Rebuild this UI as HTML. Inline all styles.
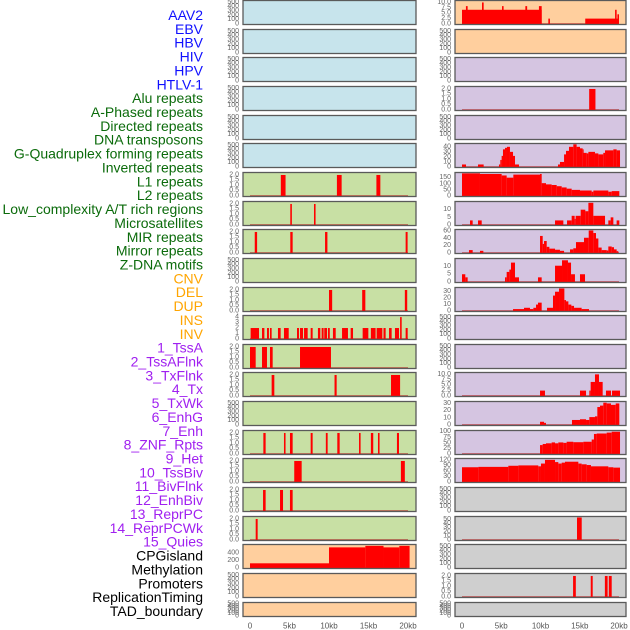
<!DOCTYPE html>
<html><head><meta charset="utf-8"><style>
body{margin:0;background:#fff}
svg{display:block}
</style></head><body>
<svg id="chart" width="630" height="630" viewBox="0 0 630 630" xmlns="http://www.w3.org/2000/svg" font-family="Liberation Sans, sans-serif"></svg>
<script>
// ---- track labels ----
const trackNames = ["AAV2","EBV","HBV","HIV","HPV","HTLV-1","Alu repeats","A-Phased repeats","Directed repeats","DNA transposons","G-Quadruplex forming repeats","Inverted repeats","L1 repeats","L2 repeats","Low_complexity A/T rich regions","Microsatellites","MIR repeats","Mirror repeats","Z-DNA motifs","CNV","DEL","DUP","INS","INV","1_TssA","2_TssAFlnk","3_TxFlnk","4_Tx","5_TxWk","6_EnhG","7_Enh","8_ZNF_Rpts","9_Het","10_TssBiv","11_BivFlnk","12_EnhBiv","13_ReprPC","14_ReprPCWk","15_Quies","CPGisland","Methylation","Promoters","ReplicationTiming","TAD_boundary"];
const groupSizes = [6,13,5,15,5];
const groupColors = ["#1010ff","#0b6b0b","#ffa500","#a020f0","#000000"];
const panelFills = {virus:"#c7e4ec",rep:"#c8e0a4",sv:"#ffcf9e",chrom:"#d5c5e1",other:"#cfcfcf"};

// ---- tick sets ----
const ticksEmpty = [0,100,200,300,400,500];
const ticks2 = [0,0.5,1,1.5,2];
const ticks4 = [0,1,2,3,4];
const ticksCNV = [0,200,400];
const ticks10 = [0,2.5,5,7.5,10];
const ticks40 = [0,10,20,30,40];
const ticks150 = [0,50,100,150];
const ticks10b = [0,5,10];
const ticks60 = [0,20,40,60];
const ticks30 = [0,10,20,30];
const ticks100 = [0,25,50,75,100];
const ticks120 = [0,30,60,90,120];
const ticks50 = [0,10,20,30,40,50];
const xTickKb = [0,5,10,15,20];
const xTickLabels = ["0","5kb","10kb","15kb","20kb"];

// ---- segments [startKb, endKb, value] ----
const L6 = [[3.9,4.5,2],[11.0,11.6,2],[16.0,16.5,2]];
const L7 = [[5.1,5.3,2],[8.1,8.3,2]];
const L8 = [[0.6,0.9,2],[5.1,5.4,2],[9.5,9.8,2],[19.7,19.95,2]];
const L10 = [[10.0,10.4,2],[14.2,14.6,2],[19.6,19.9,2]];
const L11 = [[0.08,1.14,2],[1.52,1.82,2],[2.15,2.4,2],[2.53,2.74,2],[3.54,3.88,2],[4.3,4.9,2],[5.95,6.2,2],[6.33,6.71,2],[6.84,7.3,2],[7.68,7.93,2],[8.6,8.9,2],[9.07,9.32,2],[9.4,9.75,2],[9.87,10.1,2],[10.5,10.85,2],[11.65,12.4,2],[12.74,13.04,2],[14.26,14.98,2],[15.3,15.9,2],[16.03,16.75,2],[16.9,17.17,2],[17.6,17.93,2],[18.35,18.86,2],[19.0,19.2,4],[19.7,19.96,2]];
const L12 = [[0,0.72,2],[1.52,2.15,2],[2.53,2.87,2],[6.33,10.25,2]];
const L13 = [[2.74,3.08,2],[10.7,10.97,2],[17.85,19.0,2]];
const L15 = [[1.69,1.98,2],[4.3,4.5,2],[5.06,5.4,2],[7.68,7.93,2],[9.6,9.83,2],[11.05,11.35,2],[13.8,14.0,2],[15.3,15.6,2],[16.2,16.4,2],[18.6,18.86,2]];
const L16 = [[5.6,6.54,2],[19.1,19.6,2]];
const L17 = [[1.65,1.98,2],[3.8,4.18,2],[5.06,5.4,2]];
const L18 = [[0.72,0.97,2]];
const L19 = [[0,10,125],[10,14.6,550],[14.6,16.9,590],[16.9,18.9,550],[18.9,20.2,590]];

const R0 = [[0,10.15,6.6],[0.5,0.72,8.3],[2.55,2.76,10],[5.1,5.3,8.3],[8.07,8.3,8.3],[9.8,10.15,8.3],[11.0,11.2,2.5],[15.7,20.0,2.5],[19.5,19.7,6.6],[19.8,20.0,4.5]];
const R3 = [[16.2,17.0,2]];
const R5 = [[0,0.51,5],[2.04,2.76,5],[4.71,4.88,5],[4.88,5.05,14],[5.05,5.22,22],[5.22,5.48,35],[5.48,5.73,38],[5.73,6.11,40],[6.11,6.5,30],[6.5,6.75,22],[6.75,7.26,5],[12.23,12.48,5],[12.48,13.0,10],[13.0,13.25,25],[13.25,13.63,32],[13.63,14.18,40],[14.18,14.6,45],[14.6,15.03,40],[15.03,15.37,37],[15.37,15.46,35],[15.46,15.88,28],[15.88,16.1,27],[16.1,16.94,30],[16.94,17.37,27],[17.37,18.0,25],[18.0,18.22,28],[18.22,19.28,33],[19.28,19.7,35],[19.7,20.13,33]];
const R6 = [[0,2.29,185],[2.29,5.05,180],[5.05,5.69,168],[5.69,6.54,150],[6.54,9.94,175],[9.94,10.15,180],[10.15,10.7,105],[10.7,11.42,95],[11.42,12.06,90],[12.06,12.7,80],[12.7,13.33,70],[13.33,13.97,60],[13.97,15.03,50],[15.03,16.52,45],[16.52,16.73,35],[16.73,18.64,45],[18.64,19.07,35],[19.07,20.04,40]];
const R7 = [[1.02,1.36,3],[2.04,2.51,3],[11.85,12.91,3],[13.38,13.97,3],[13.97,14.35,6],[14.35,14.48,4],[14.48,15.12,6],[15.12,15.71,10],[15.71,16.1,9],[16.1,16.73,14.5],[16.73,18.22,6],[18.64,18.94,3],[18.94,19.28,5],[19.7,20.04,3]];
const R8 = [[0.89,1.36,8],[2.29,2.72,6],[9.94,10.28,47],[10.28,10.45,25],[10.45,10.79,33],[10.79,11.13,17],[11.13,11.85,12],[11.85,12.48,9],[12.48,13.0,6],[13.76,14.18,10],[14.18,14.52,13],[14.52,15.54,30],[15.54,16.14,42],[16.14,16.73,62],[16.73,17.07,55],[17.07,17.37,40],[17.37,17.79,15],[17.79,18.43,8],[18.43,18.64,7],[18.64,19.07,18],[19.07,19.36,16],[19.36,19.7,10],[19.7,19.91,5]];
const R9 = [[0,0.42,5],[0.42,0.72,3],[5.48,5.69,3],[5.69,6.03,6.5],[6.03,6.24,8],[6.24,6.75,12.5],[6.75,7.26,3],[9.68,10.15,3],[11.85,12.74,10.5],[12.74,13.5,14],[13.5,13.89,12.5],[13.89,14.39,5],[15.03,15.67,5]];
const R10 = [[6.5,7.9,3],[7.9,8.66,5],[8.66,9.09,3],[9.09,9.43,5],[9.43,9.68,10],[9.68,10.15,13],[10.83,11.59,5],[11.59,11.85,24],[11.85,12.36,30],[12.36,13.04,35],[13.04,13.25,17],[13.25,13.55,15],[13.55,13.93,10],[13.93,14.27,8],[14.27,15.24,5],[15.24,16.18,3]];
const R13 = [[9.94,10.57,2.5],[15.03,15.8,2.5],[16.22,16.39,2.5],[16.39,16.94,6.5],[16.94,17.45,10],[17.45,17.92,6.5],[18.34,18.98,2.5],[19.11,20.13,2.5]];
const R14 = [[9.94,10.45,4.5],[10.45,10.7,3],[14.01,15.03,7],[15.03,15.8,8],[15.8,16.22,7],[16.22,16.94,11],[16.94,17.24,12],[17.24,17.58,25],[17.58,18.0,27],[18.0,18.43,31],[18.43,18.98,30],[18.98,19.58,28],[19.58,20.04,30]];
const R15 = [[9.94,10.28,40],[10.28,10.7,45],[10.7,11.42,48],[11.42,11.85,52],[11.85,12.27,48],[12.27,12.91,52],[12.91,13.33,50],[13.33,14.18,55],[14.18,15.46,53],[15.46,16.52,55],[16.52,16.81,65],[16.81,17.16,90],[17.16,18.43,92],[18.43,19.07,96],[19.07,20.13,100]];
const R16 = [[0,2.08,80],[2.08,5.9,82],[5.9,7.18,88],[7.18,9.72,90],[9.72,10.06,85],[10.06,10.57,100],[10.57,11.85,120],[11.85,12.27,108],[12.27,12.7,100],[12.7,13.12,105],[13.12,14.82,110],[14.82,15.24,100],[15.24,15.88,96],[15.88,16.43,92],[16.43,18.64,85],[18.64,19.28,80],[19.28,20.13,78]];
const R18 = [[14.65,15.25,55]];
const R20 = [[14.15,14.5,2],[16.4,16.65,2],[18.2,18.55,2],[18.7,19.07,2]];

// panel specs: [segments, domainTop, ticks, decimals]
const leftPanels = [
 [null,520,ticksEmpty,0],[null,520,ticksEmpty,0],[null,520,ticksEmpty,0],[null,520,ticksEmpty,0],[null,520,ticksEmpty,0],[null,520,ticksEmpty,0],
 [L6,2.14,ticks2,1],[L7,2.14,ticks2,1],[L8,2.14,ticks2,1],[null,520,ticksEmpty,0],[L10,2.14,ticks2,1],[L11,4.1,ticks4,0],
 [L12,2.14,ticks2,1],[L13,2.14,ticks2,1],[null,520,ticksEmpty,0],[L15,2.14,ticks2,1],[L16,2.14,ticks2,1],[L17,2.14,ticks2,1],[L18,2.14,ticks2,1],
 [L19,600,ticksCNV,0],[null,520,ticksEmpty,0],[null,520,ticksEmpty,0]];
const rightPanels = [
 [R0,10.44,ticks10,1],[null,520,ticksEmpty,0],[null,520,ticksEmpty,0],[R3,2.14,ticks2,1],[null,520,ticksEmpty,0],[R5,44.6,ticks40,0],
 [R6,184,ticks150,0],[R7,14.7,ticks10b,0],[R8,62,ticks60,0],[R9,14.5,ticks10b,0],[R10,35,ticks30,0],[null,520,ticksEmpty,0],
 [null,520,ticksEmpty,0],[R13,10.4,ticks10,1],[R14,31.3,ticks30,0],[R15,101,ticks100,0],[R16,122,ticks120,0],
 [null,520,ticksEmpty,0],[R18,55,ticks50,0],[null,520,ticksEmpty,0],[R20,2.14,ticks2,1],[null,520,ticksEmpty,0]];

const NS = "http://www.w3.org/2000/svg";
const svg = document.getElementById("chart");
function mk(tag, attrs, parent){ const e=document.createElementNS(NS,tag); for(const k in attrs) e.setAttribute(k,attrs[k]); (parent||svg).appendChild(e); return e; }

// labels
let gi=0, cnt=0;
trackNames.forEach((name,i)=>{
  while(cnt>=groupSizes[gi]){cnt=0;gi++;}
  const t = mk("text",{x:203,y:15+i*13.86,"text-anchor":"end","dominant-baseline":"central","font-size":"14",fill:groupColors[gi]});
  t.textContent=name;
  
  
  cnt++;
});

function rowTop(i){ return Math.round(i*28.65); }
const cols = [
  {frameX:243, frameW:173, x0:250, pxPerKb:7.9, tickX:239, panels:leftPanels, fills:i=> i<6?panelFills.virus : i<19?panelFills.rep : panelFills.sv},
  {frameX:455, frameW:171, x0:462, pxPerKb:7.85, tickX:451, panels:rightPanels, fills:i=> i<2?panelFills.sv : i<17?panelFills.chrom : panelFills.other}
];
cols.forEach((c,ci)=>{
  const xs = kb=> c.x0 + kb*c.pxPerKb;
  c.panels.forEach((p,i)=>{
    const top=rowTop(i), h = i===21?15:25, bot=top+h;
    const g = mk("g",{});
    
    
    mk("rect",{x:c.frameX,y:top,width:c.frameW,height:h,fill:c.fills(i),stroke:"none"},g);
    const [segs,dTop,ticks,dec]=p;
    const ys = v=> bot-1 - v*(h-2.5)/dTop;
    if(segs){
      const bl = mk("line",{x1:xs(0),x2:xs(20),y1:ys(0),y2:ys(0),stroke:"rgba(190,30,30,0.55)","stroke-width":2},g);
      
      
      segs.forEach(s=>{
        const r = mk("rect",{x:xs(s[0]),y:ys(s[2]),width:Math.max(1,xs(s[1])-xs(s[0])),height:ys(0)-ys(s[2])+1,fill:"#ff0000"},g);
        
        
      });
    }
    mk("rect",{x:c.frameX,y:top+0.5,width:c.frameW,height:h-1,fill:"none",stroke:"#5a5a5a","stroke-width":1.3},g);
    ticks.forEach(tv=>{
      const t = mk("text",{x:c.tickX,y:ys(tv),"text-anchor":"end","dominant-baseline":"central","font-size":"7",fill:"#666"},g);
      t.textContent = tv.toFixed(dec);
      
      
    });
  });
  xTickKb.forEach((kb,k)=>{
    const t = mk("text",{x:xs(kb),y:626,"text-anchor":"middle","dominant-baseline":"central","font-size":"8",fill:"#555"});
    t.textContent = xTickLabels[k];
    
    
  });
});
</script>
</body></html>
